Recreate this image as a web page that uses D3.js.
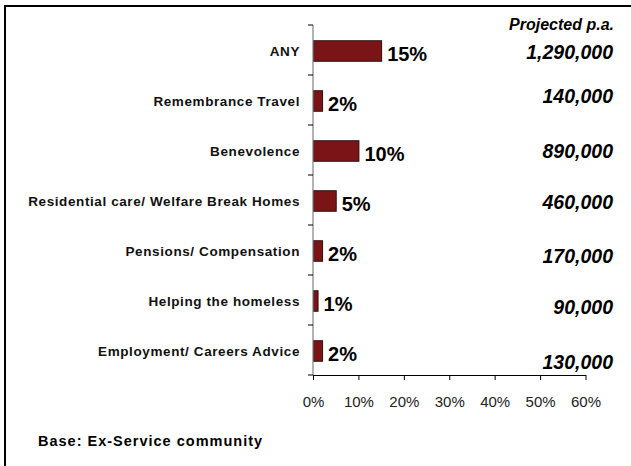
<!DOCTYPE html>
<html>
<head>
<meta charset="utf-8">
<script src="https://cdn.jsdelivr.net/npm/d3@7"></script>
<style>
  html, body { margin: 0; padding: 0; background: #fff; }
  svg { display: block; }
  text { font-family: "Liberation Sans", Arial, sans-serif; }
</style>
</head>
<body>
<svg id="chart" width="631" height="466"></svg>
<script>
// Service areas (top to bottom)
const categories = [
  "ANY",
  "Remembrance Travel",
  "Benevolence",
  "Residential care/ Welfare Break Homes",
  "Pensions/ Compensation",
  "Helping the homeless",
  "Employment/ Careers Advice"
];
// Share of the ex-service community using each service (%)
const shares = [15, 2, 10, 5, 2, 1, 2];
// Projected number of users per year
const projected = [1290000, 140000, 890000, 460000, 170000, 90000, 130000];
// Percentage axis ticks
const xTicks = [0, 10, 20, 30, 40, 50, 60];

// Vertical nudge of each projected figure below its row centre (px)
const projectedDy = [8, 2, 7, 8, 12, 13, 18];

const svg = d3.select("#chart");
const W = 631, H = 466;

svg.append("rect").attr("width", W).attr("height", H).attr("fill", "#fff");

// frame running off the right and bottom edges
svg.append("rect")
  .attr("x", 5).attr("y", 6)
  .attr("width", 700).attr("height", 600)
  .attr("fill", "none")
  .attr("stroke", "#000")
  .attr("stroke-width", 2);

const x = d3.scaleLinear().domain([0, 60]).range([313, 585.5]);
const y = d3.scaleBand()
  .domain(categories)
  .range([25.5, 375.5])
  .paddingInner(0.59)
  .paddingOuter(0.295);

const step = y.step();
const gap = (step - y.bandwidth()) / 2;
const rows = categories.map((c, i) => ({
  cat: c, share: shares[i], proj: projected[i], dy: projectedDy[i],
  mid: y(c) + y.bandwidth() / 2
}));

// bars
svg.append("g").selectAll("rect")
  .data(rows)
  .join("rect")
  .attr("x", x(0) + 0.5)
  .attr("y", d => y(d.cat) + 0.5)
  .attr("width", d => x(d.share) - x(0))
  .attr("height", y.bandwidth())
  .attr("fill", "#7a1416")
  .attr("stroke", "#2a1010")
  .attr("stroke-width", 1);

// category axis: grey line, black ticks on row boundaries
const yBottom = y.range()[1] - 0.5;
const yTop = y.range()[0] - 0.5;
svg.append("line")
  .attr("x1", x(0)).attr("x2", x(0))
  .attr("y1", yTop).attr("y2", yBottom)
  .attr("stroke", "#808080").attr("stroke-width", 1.2);
const bounds = categories.map(c => y(c) - gap - 0.5).concat([yBottom]);
svg.append("g").selectAll("line")
  .data(bounds)
  .join("line")
  .attr("x1", x(0) - 5).attr("x2", x(0))
  .attr("y1", d => d).attr("y2", d => d)
  .attr("stroke", "#000").attr("stroke-width", 1);

// category labels
svg.append("g").selectAll("text")
  .data(rows)
  .join("text")
  .attr("x", 300)
  .attr("y", d => d.mid + 5.5)
  .attr("text-anchor", "end")
  .style("font-size", "13.5px")
  .style("font-weight", "bold")
  .style("letter-spacing", "0.6px")
  .attr("fill", "#111")
  .text(d => d.cat);

// percentage axis
const xAxis = d3.axisBottom(x)
  .tickValues(xTicks)
  .tickSize(5)
  .tickSizeOuter(0)
  .tickFormat(d => d + "%");
const gx = svg.append("g")
  .attr("transform", `translate(0,${yBottom})`)
  .call(xAxis);
gx.select(".domain").attr("stroke", "#000").attr("stroke-width", 1.2);
gx.selectAll(".tick line").attr("stroke", "#000");
gx.selectAll(".tick text")
  .attr("y", 31.5).attr("dy", 0)
  .style("font-size", "15px")
  .style("font-family", "'Liberation Sans', Arial, sans-serif")
  .attr("fill", "#222");

// value labels beside bars
svg.append("g").selectAll("text")
  .data(rows)
  .join("text")
  .attr("x", d => x(d.share) + 6)
  .attr("y", d => d.mid + 10.5)
  .style("font-size", "20px")
  .style("font-weight", "bold")
  .attr("fill", "#000")
  .text(d => d.share + "%");

// projected yearly figures
const fmt = d3.format(",");
svg.append("text")
  .attr("x", 614).attr("y", 30)
  .attr("text-anchor", "end")
  .style("font-size", "16px")
  .style("font-weight", "bold")
  .style("font-style", "italic")
  .attr("fill", "#000")
  .text("Projected p.a.");
svg.append("g").selectAll("text")
  .data(rows)
  .join("text")
  .attr("x", 613)
  .attr("y", d => d.mid + d.dy)
  .attr("text-anchor", "end")
  .style("font-size", "19.5px")
  .style("font-weight", "bold")
  .style("font-style", "italic")
  .attr("fill", "#000")
  .text(d => fmt(d.proj));

// footnote
svg.append("text")
  .attr("x", 38).attr("y", 446)
  .style("font-size", "14.5px")
  .style("font-weight", "bold")
  .style("letter-spacing", "1px")
  .attr("fill", "#000")
  .text("Base: Ex-Service community");
</script>
</body>
</html>
